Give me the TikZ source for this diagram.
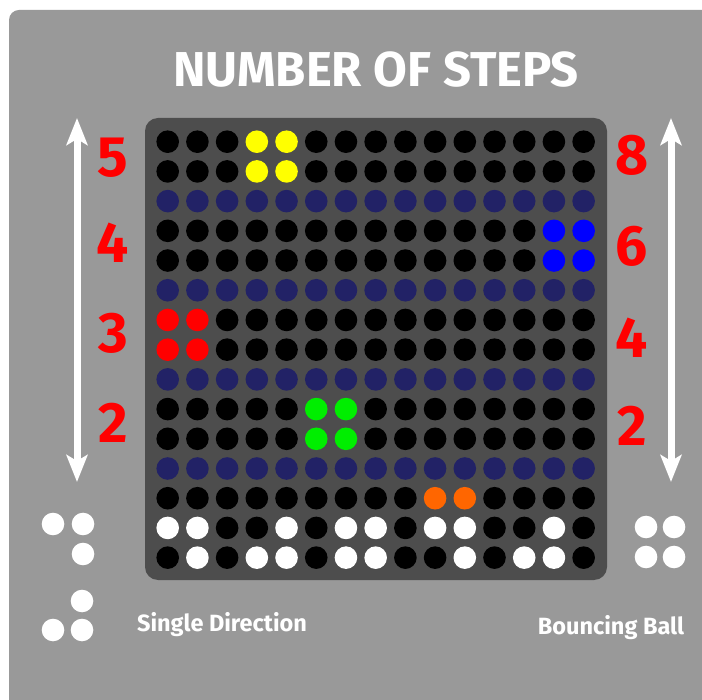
\documentclass[tikz,border=0pt]{standalone}
\usepackage{fontspec}
\setmainfont{Fira Sans}
\usetikzlibrary{arrows.meta}
\definecolor{panelgray}{HTML}{999999}
\definecolor{boardgray}{HTML}{4D4D4D}
\definecolor{colK}{HTML}{000000}
\definecolor{colN}{HTML}{222266}
\definecolor{colY}{HTML}{FFFF00}
\definecolor{colB}{HTML}{0000FF}
\definecolor{colR}{HTML}{FF0000}
\definecolor{colG}{HTML}{00EE00}
\definecolor{colO}{HTML}{FF6600}
\definecolor{colW}{HTML}{FFFFFF}
\definecolor{numred}{HTML}{FF0000}
\begin{document}
\begin{tikzpicture}[x=1pt,y=-1pt,
  dot/.style={circle,minimum size=22.6pt,inner sep=0pt,fill=#1},
  num/.style={text=numred,font=\bfseries\fontsize{57}{57}\selectfont,inner sep=0pt},
  caption/.style={text=white,font=\bfseries\fontsize{23.5}{23.5}\selectfont,inner sep=0pt},
  bigarrow/.style={white,line width=7pt,{Stealth[length=27pt,width=21pt,inset=6pt]}-{Stealth[length=27pt,width=21pt,inset=6pt]}}]
\useasboundingbox (0,0) rectangle (702,700);
\begin{scope}
\clip (0,0) rectangle (702,700);
\fill[white] (0,0) rectangle (702,700);
\fill[panelgray,rounded corners=10pt] (9,10) rectangle (730,730);
\end{scope}
\fill[boardgray,rounded corners=13pt] (145,118) rectangle (607,580);
\node[text=white,font=\bfseries\fontsize{49}{49}\selectfont,inner sep=0pt] (title) at (376,70) {NUMBER OF STEPS};
\foreach [count=\r] \rowlist in {
 {K,K,K,Y,Y,K,K,K,K,K,K,K,K,K,K},
 {K,K,K,Y,Y,K,K,K,K,K,K,K,K,K,K},
 {N,N,N,N,N,N,N,N,N,N,N,N,N,N,N},
 {K,K,K,K,K,K,K,K,K,K,K,K,K,B,B},
 {K,K,K,K,K,K,K,K,K,K,K,K,K,B,B},
 {N,N,N,N,N,N,N,N,N,N,N,N,N,N,N},
 {R,R,K,K,K,K,K,K,K,K,K,K,K,K,K},
 {R,R,K,K,K,K,K,K,K,K,K,K,K,K,K},
 {N,N,N,N,N,N,N,N,N,N,N,N,N,N,N},
 {K,K,K,K,K,G,G,K,K,K,K,K,K,K,K},
 {K,K,K,K,K,G,G,K,K,K,K,K,K,K,K},
 {N,N,N,N,N,N,N,N,N,N,N,N,N,N,N},
 {K,K,K,K,K,K,K,K,K,O,O,K,K,K,K},
 {W,W,K,K,W,K,W,W,K,W,W,K,K,W,K},
 {K,W,K,W,W,K,W,W,K,K,W,K,W,W,K}}
{
  \foreach [count=\c] \col in \rowlist {
    \node[dot=col\col] (d-\r-\c) at ({167.7+(\c-1)*29.71},{141.7+(\r-1)*29.71}) {};
  }
}
% left arrow and numbers
\coordinate (la-top) at (77,118);
\coordinate (la-bot) at (77,482);
\draw[bigarrow] (la-top) -- (la-bot);
\node[num] (l5) at (113,157.5) {5};
\node[num] (l4) at (113,243) {4};
\node[num] (l3) at (113,333) {3};
\node[num] (l2) at (113,422.5) {2};
% right arrow and numbers
\coordinate (ra-top) at (671,118);
\coordinate (ra-bot) at (671,482);
\draw[bigarrow] (ra-top) -- (ra-bot);
\node[num] (r8) at (632,155) {8};
\node[num] (r6) at (632,246) {6};
\node[num] (r4) at (632,338) {4};
\node[num] (r2) at (632,426) {2};
% single direction icon
\node[dot=colW] (s1) at (53,524) {};
\node[dot=colW] (s2) at (83,524) {};
\node[dot=colW] (s3) at (83,554) {};
\node[dot=colW] (s4) at (82,601) {};
\node[dot=colW] (s5) at (53,630) {};
\node[dot=colW] (s6) at (82,630) {};
% bouncing ball icon
\node[dot=colW] (b1) at (646,527) {};
\node[dot=colW] (b2) at (674,527) {};
\node[dot=colW] (b3) at (646,557) {};
\node[dot=colW] (b4) at (674,557) {};
% captions
\node[caption,anchor=base] (single) at (222,631) {Single Direction};
\node[caption,anchor=base] (bounce) at (611,634) {Bouncing Ball};
\end{tikzpicture}
\end{document}
